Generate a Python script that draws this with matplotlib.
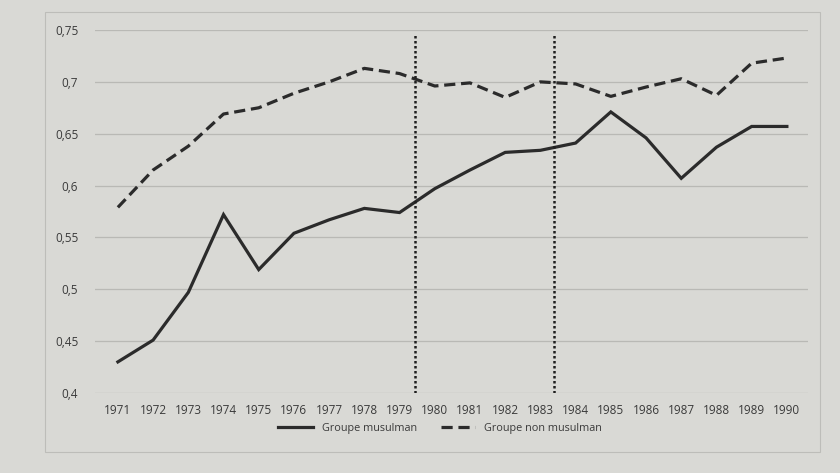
import matplotlib
matplotlib.use("Agg")
import matplotlib.pyplot as plt
from matplotlib.patches import Rectangle

years = list(range(1971, 1991))
musulman = [0.430, 0.451, 0.497, 0.572, 0.519, 0.554, 0.567, 0.578, 0.574, 0.597,
            0.615, 0.632, 0.634, 0.641, 0.671, 0.646, 0.607, 0.637, 0.657, 0.657]
non_musulman = [0.579, 0.615, 0.638, 0.669, 0.675, 0.689, 0.700, 0.713, 0.708, 0.696,
                0.699, 0.685, 0.700, 0.698, 0.686, 0.695, 0.703, 0.687, 0.718, 0.723]
ytick_vals = [0.4, 0.45, 0.5, 0.55, 0.6, 0.65, 0.7, 0.75]
ytick_labels = ["0,4", "0,45", "0,5", "0,55", "0,6", "0,65", "0,7", "0,75"]
periods = [1979.45, 1983.4]
series_labels = ["Groupe musulman", "Groupe non musulman"]

plt.rcParams['font.family'] = ['Open Sans', 'DejaVu Sans']
bg = '#d9d9d5'
fig = plt.figure(figsize=(8.4, 4.73), dpi=100, facecolor=bg)
ax = fig.add_axes([95/840, 1-393/473, 713/840, 363/473])
ax.set_facecolor(bg)

# outer chart border
fig.patches.append(Rectangle((45/840, 1-452/473), 775/840, 440/473, transform=fig.transFigure,
                             fill=False, edgecolor='#bdbdb9', linewidth=0.8))

ax.plot(years, musulman, color='#2b2b2b', linewidth=2.3, solid_joinstyle='miter',
        label=series_labels[0])
ax.plot(years, non_musulman, color='#2b2b2b', linewidth=2.3, linestyle=(0, (3.5, 1.8)),
        label=series_labels[1])
for p in periods:
    ax.vlines(p, 0.4, 0.745, colors='#1e1e1e', linestyles=(0, (1, 1.0)), linewidth=1.8)

ax.set_xlim(1970.35, 1990.6)
ax.set_ylim(0.4, 0.75)
ax.set_yticks(ytick_vals)
ax.set_yticklabels(ytick_labels)
ax.set_xticks(years)
ax.set_xticklabels([str(y) for y in years])
ax.grid(axis='y', color='#b9b9b5', linewidth=0.9)
ax.set_axisbelow(True)
for s in ax.spines.values():
    s.set_visible(False)
ax.tick_params(length=0, labelsize=8.5, colors='#3a3a3a', pad=8)
ax.tick_params(axis='y', pad=12)

fig.legend(loc='center', bbox_to_anchor=(440/840, 1-428/473), ncol=2, frameon=False,
           fontsize=7.8, handlelength=3.2, columnspacing=2.2, labelcolor='#3a3a3a')

fig.savefig('out.png', dpi=100, facecolor=bg)
